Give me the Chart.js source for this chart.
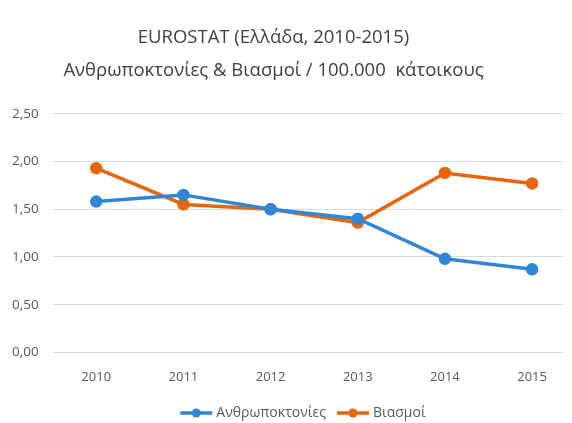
<!DOCTYPE html>
<html>
<head>
<meta charset="utf-8">
<script src="https://cdn.jsdelivr.net/npm/chart.js@4"></script>
<style>
  html, body { margin: 0; padding: 0; background: #fff; }
  #wrap { width: 572px; height: 423px; }
</style>
</head>
<body>
<div id="wrap"><canvas id="chart"></canvas></div>
<script>
const years = [2010, 2011, 2012, 2013, 2014, 2015];
const homicides = [1.58, 1.65, 1.50, 1.40, 0.98, 0.87];
const rapes = [1.93, 1.55, 1.50, 1.36, 1.88, 1.77];
const titleLines = ['EUROSTAT (Ελλάδα, 2010-2015)', 'Ανθρωποκτονίες & Βιασμοί / 100.000  κάτοικους'];

const BLUE = '#2F86D6';
const ORANGE = '#E8650F';
const FONT = "'Open Sans', sans-serif";

function legendIcon(color) {
  let c = document.createElement('canvas');
  c.width = 34;
  c.height = 12;
  let ctx = c.getContext('2d');
  ctx.strokeStyle = color;
  ctx.lineWidth = 3.5;
  ctx.beginPath();
  ctx.moveTo(1, 6);
  ctx.lineTo(33, 6);
  ctx.stroke();
  ctx.fillStyle = color;
  ctx.beginPath();
  ctx.arc(17, 6, 4.5, 0, Math.PI * 2);
  ctx.fill();
  return c;
}

function createDataset(label, color, values) {
  return {
    label: label,
    data: values.map((v, i) => ({ x: years[i], y: v })),
    borderColor: color,
    backgroundColor: color,
    borderWidth: 3.5,
    pointRadius: 4.5,
    pointHoverRadius: 5,
    tension: 0
  };
}

// the original centres the title a bit left and the legend a bit right
const nudgeBoxes = {
  id: 'nudgeBoxes',
  afterLayout(chart) {
    chart.titleBlock.left -= 11;
    chart.titleBlock.right -= 11;
    chart.legend.left += 20;
    chart.legend.right += 20;
  }
};

const icons = [legendIcon(BLUE), legendIcon(ORANGE)];

let ctx = document.getElementById('chart').getContext('2d');
new Chart(ctx, {
  type: 'line',
  data: {
    datasets: [
      createDataset('Ανθρωποκτονίες', BLUE, homicides),
      createDataset('Βιασμοί', ORANGE, rapes)
    ]
  },
  plugins: [nudgeBoxes],
  options: {
    responsive: true,
    maintainAspectRatio: false,
    animation: { duration: 0 },
    layout: { padding: { left: 4, right: 7, top: 22, bottom: -7 } },
    scales: {
      x: {
        type: 'linear',
        min: 2009.5,
        max: 2015.36,
        afterBuildTicks: (scale) => { scale.ticks = years.map((y) => ({ value: y })); },
        afterFit: (scale) => { scale.height -= 2; },
        grid: { display: false },
        border: { display: false },
        ticks: {
          color: '#595959',
          font: { family: FONT, size: 13 },
          padding: 9,
          callback: (value) => String(value)
        }
      },
      y: {
        min: 0,
        max: 2.5,
        afterFit: (scale) => { scale.width -= 6; },
        ticks: {
          stepSize: 0.5,
          color: '#595959',
          padding: 14,
          font: { family: FONT, size: 13.5 },
          callback: (value) => value.toFixed(2).replace('.', ',')
        },
        grid: { color: '#D9D9D9', drawTicks: false },
        border: { display: false }
      }
    },
    plugins: {
      title: {
        display: true,
        text: titleLines,
        color: '#404040',
        font: { family: FONT, size: 18.5, weight: 'normal', lineHeight: 1.75 },
        padding: { top: 0, bottom: 27 }
      },
      legend: {
        position: 'bottom',
        labels: {
          color: '#595959',
          font: { family: FONT, size: 14 },
          usePointStyle: true,
          pointStyleWidth: 26,
          padding: 14,
          generateLabels: (chart) => chart.data.datasets.map((ds, i) => ({
            text: ds.label,
            fillStyle: ds.borderColor,
            strokeStyle: ds.borderColor,
            pointStyle: icons[i],
            fontColor: '#595959',
            datasetIndex: i,
            hidden: false
          }))
        }
      },
      tooltip: { enabled: false }
    }
  }
});
</script>
</body>
</html>
